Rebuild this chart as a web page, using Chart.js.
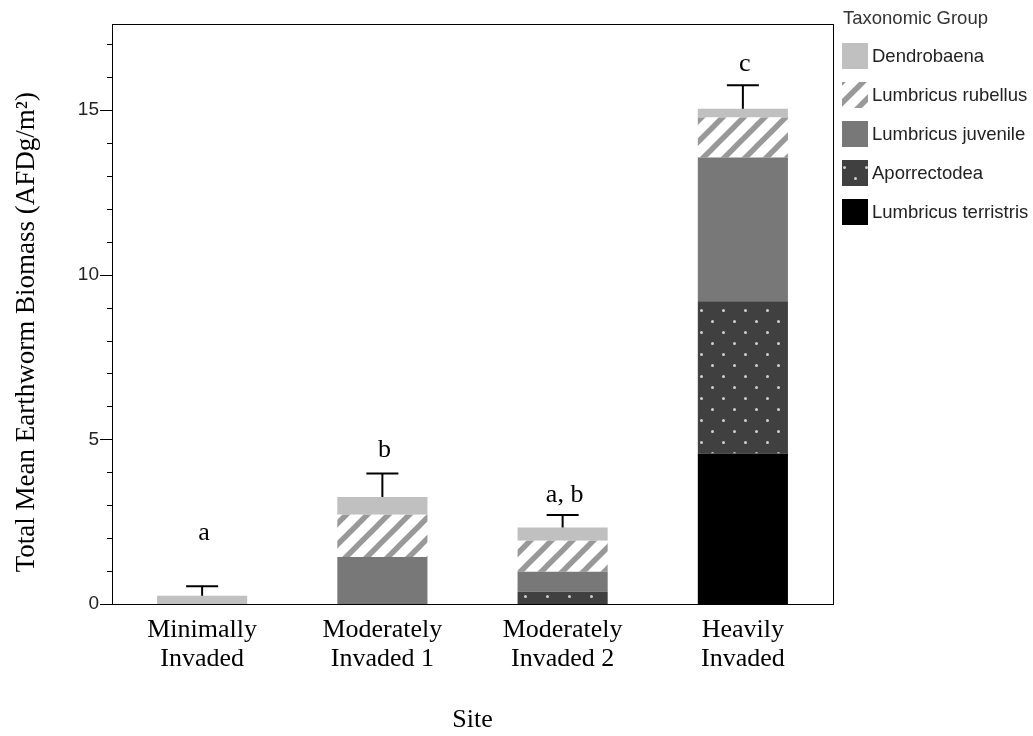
<!DOCTYPE html>
<html lang="en">
<head>
  <meta charset="UTF-8">
  <title>Earthworm Biomass</title>
  <script src="https://cdn.jsdelivr.net/npm/chart.js"></script>
  <style>
    body { margin: 0; background: #fff; }
    #chart { display: block; }
  </style>
</head>
<body>
  <canvas id="chart" width="1033" height="736"></canvas>

  <script>
    // site categories and stacked group values (AFDg/m2)
    const sites = [['Minimally', 'Invaded'], ['Moderately', 'Invaded 1'], ['Moderately', 'Invaded 2'], ['Heavily', 'Invaded']];
    const terrestris = [0, 0, 0, 4.57];
    const aporrectodea = [0, 0, 0.37, 4.62];
    const juvenile = [0, 1.43, 0.61, 4.37];
    const rubellus = [0, 1.28, 0.94, 1.21];
    const dendrobaena = [0.25, 0.54, 0.40, 0.27];
    // upper error (SE) above each stack
    const errors = [0.29, 0.71, 0.38, 0.71];
    // significance letters and the value where their baseline sits
    const letters = ['a', 'b', 'a, b', 'c'];
    const letterAt = [1.94, 4.45, 3.10, 16.18];
    const yTicks = [0, 5, 10, 15];

    const serif = 'Liberation Serif, Times New Roman, serif';
    const sans = 'Liberation Sans, Arial, sans-serif';

    function stripePattern() {
      const c = document.createElement('canvas');
      c.width = 21; c.height = 21;
      const g = c.getContext('2d');
      g.fillStyle = '#fff';
      g.fillRect(0, 0, 21, 21);
      g.strokeStyle = '#999';
      g.lineWidth = 5.5;
      g.beginPath();
      g.moveTo(-5, 26); g.lineTo(26, -5);
      g.moveTo(-5, 5); g.lineTo(5, -5);
      g.moveTo(16, 26); g.lineTo(26, 16);
      g.stroke();
      return g.createPattern(c, 'repeat');
    }

    function dotPattern() {
      const c = document.createElement('canvas');
      c.width = 22; c.height = 22;
      const g = c.getContext('2d');
      g.fillStyle = '#404040';
      g.fillRect(0, 0, 22, 22);
      g.fillStyle = '#d0d0d0';
      [[19.5, 2.5], [8.5, 13.5]].forEach(p => {
        g.beginPath();
        g.arc(p[0], p[1], 1.5, 0, Math.PI * 2);
        g.fill();
      });
      return g.createPattern(c, 'repeat');
    }

    const ctx = document.getElementById('chart').getContext('2d');

    // frame, minor ticks, error bars, letters, y title and legend
    const extras = {
      id: 'extras',
      afterDatasetsDraw(chart) {
        const { ctx, scales: { x, y } } = chart;
        ctx.save();
        ctx.strokeStyle = '#000';
        ctx.lineWidth = 2;
        sites.forEach((s, i) => {
          let top = 0;
          chart.data.datasets.forEach(ds => { top += ds.data[i]; });
          const px = x.getPixelForValue(i);
          const y0 = y.getPixelForValue(top);
          const y1 = y.getPixelForValue(top + errors[i]);
          ctx.beginPath();
          ctx.moveTo(px, y0);
          ctx.lineTo(px, y1);
          ctx.moveTo(px - 16, y1);
          ctx.lineTo(px + 16, y1);
          ctx.stroke();
        });
        ctx.fillStyle = '#000';
        ctx.font = '26px ' + serif;
        ctx.textAlign = 'center';
        ctx.textBaseline = 'alphabetic';
        letters.forEach((t, i) => {
          ctx.fillText(t, x.getPixelForValue(i) + 2, y.getPixelForValue(letterAt[i]));
        });
        ctx.restore();
      },
      afterDraw(chart) {
        const { ctx, chartArea: a, scales: { y } } = chart;
        ctx.save();
        ctx.strokeStyle = '#000';
        ctx.lineWidth = 1;
        ctx.strokeRect(Math.round(a.left) + 0.5, Math.round(a.top) + 0.5,
          Math.round(a.right - a.left), Math.round(a.bottom - a.top));
        ctx.beginPath();
        for (let v = 0; v <= 17; v++) {
          const len = yTicks.includes(v) ? 12 : 5;
          const py = Math.round(y.getPixelForValue(v)) + 0.5;
          ctx.moveTo(a.left - len, py);
          ctx.lineTo(a.left, py);
        }
        ctx.stroke();

        // y axis title
        ctx.translate(27, (a.top + a.bottom) / 2 + 18);
        ctx.rotate(-Math.PI / 2);
        ctx.fillStyle = '#000';
        ctx.font = '27px ' + serif;
        ctx.textAlign = 'center';
        ctx.textBaseline = 'middle';
        ctx.fillText('Total Mean Earthworm Biomass (AFDg/m\u00B2)', 0, 0);
        ctx.setTransform(1, 0, 0, 1, 0, 0);

        // legend, top group first
        const lx = a.right + 9;
        ctx.font = '18.5px ' + sans;
        ctx.textAlign = 'left';
        ctx.textBaseline = 'alphabetic';
        ctx.fillStyle = '#333';
        ctx.fillText('Taxonomic Group', lx + 1, 24);
        const items = chart.data.datasets.slice().reverse();
        items.forEach((ds, k) => {
          const top = 43 + k * 39;
          ctx.fillStyle = ds.backgroundColor;
          ctx.fillRect(lx, top, 26, 26);
          ctx.fillStyle = '#222';
          ctx.textBaseline = 'middle';
          ctx.fillText(ds.label, lx + 30, top + 14);
        });
        ctx.restore();
      }
    };

    new Chart(ctx, {
      type: 'bar',
      data: {
        labels: sites,
        datasets: [
          { label: 'Lumbricus terristris', data: terrestris, backgroundColor: '#000000' },
          { label: 'Aporrectodea', data: aporrectodea, backgroundColor: dotPattern() },
          { label: 'Lumbricus juvenile', data: juvenile, backgroundColor: '#787878' },
          { label: 'Lumbricus rubellus', data: rubellus, backgroundColor: stripePattern() },
          { label: 'Dendrobaena', data: dendrobaena, backgroundColor: '#c0c0c0' }
        ]
      },
      options: {
        responsive: false,
        animation: false,
        devicePixelRatio: 1,
        layout: { padding: { top: 24, right: 200, left: 0, bottom: 0 } },
        datasets: {
          bar: { barPercentage: 0.5, categoryPercentage: 1, borderWidth: 0 }
        },
        plugins: {
          legend: { display: false },
          tooltip: { enabled: false }
        },
        scales: {
          x: {
            stacked: true,
            grid: { display: false, drawTicks: false },
            border: { display: true, color: '#000', width: 1 },
            ticks: {
              color: '#000',
              padding: 12,
              font: { family: serif, size: 26, lineHeight: 1.115 }
            },
            title: {
              display: true,
              text: 'Site',
              color: '#000',
              font: { family: serif, size: 26 },
              padding: { top: 0, bottom: 0 }
            },
            afterFit(s) { s.height = 132; }
          },
          y: {
            stacked: true,
            min: 0,
            max: 17.6,
            grid: { display: false, drawTicks: false },
            border: { display: true, color: '#000', width: 1 },
            ticks: {
              stepSize: 5,
              includeBounds: false,
              color: '#222',
              padding: 13,
              font: { family: sans, size: 19 }
            },
            afterFit(s) { s.width = 112; }
          }
        }
      },
      plugins: [extras]
    });
  </script>
</body>
</html>
